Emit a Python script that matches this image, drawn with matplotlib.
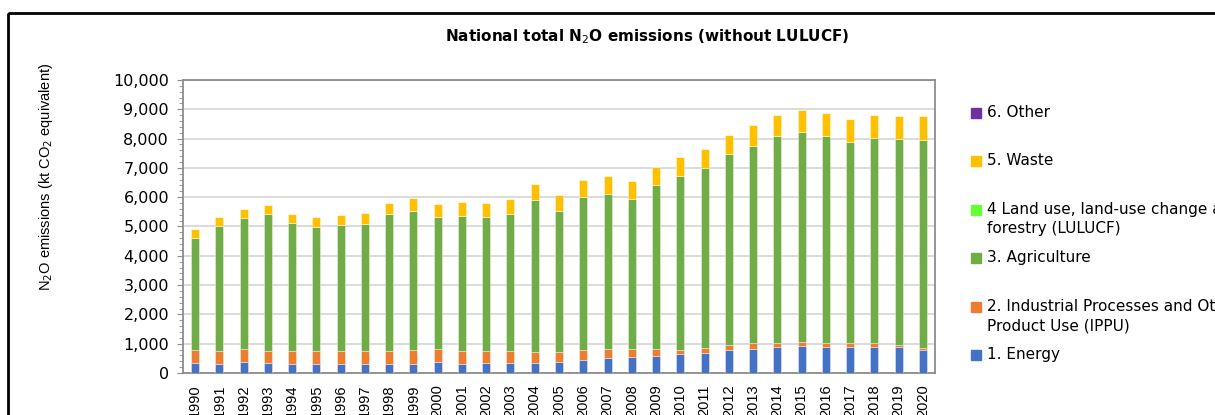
import numpy as np
import matplotlib
matplotlib.use("Agg")
import matplotlib.pyplot as plt
from matplotlib.patches import Rectangle
from matplotlib.ticker import MultipleLocator, FuncFormatter

# Data (kt CO2 eq)
years = list(range(1990, 2021))
energy = [340, 307, 362, 340, 307, 295, 295, 295, 295, 307, 362, 307, 330, 340, 350, 375,
          442, 497, 533, 567, 647, 692, 783, 830, 873, 920, 897, 873, 873, 885, 772]
ippu = [430, 443, 443, 420, 443, 442, 442, 455, 465, 463, 468, 453, 430, 410, 375, 350,
        341, 308, 297, 263, 136, 170, 182, 192, 137, 137, 125, 137, 160, 57, 68]
agriculture = [3850, 4260, 4480, 4650, 4375, 4243, 4298, 4330, 4650, 4775, 4485, 4590, 4555,
               4660, 5175, 4810, 5227, 5320, 5125, 5600, 5952, 6148, 6500, 6738, 7090, 7183,
               7078, 6885, 6987, 7048, 7125]
lulucf = [0] * len(years)
waste = [300, 320, 315, 330, 315, 350, 365, 385, 405, 430, 455, 480, 500, 520, 555, 555,
         580, 590, 600, 605, 630, 650, 670, 705, 705, 725, 775, 775, 785, 793, 818]
other = [0] * len(years)

series_names = ["1. Energy", "2. Industrial Processes and Other\nProduct Use (IPPU)",
                "3. Agriculture", "4 Land use, land-use change and\nforestry (LULUCF)",
                "5. Waste", "6. Other"]
series_vals = [energy, ippu, agriculture, lulucf, waste, other]
colors = ["#4472C4", "#ED7D31", "#70AD47", "#66FF33", "#FFC000", "#7030A0"]

W, H = 1215, 415
narrow = "Liberation Sans"


def px(x, y):
    # pixel position (from top-left) to figure fraction
    return x / W, 1 - y / H


fig = plt.figure(figsize=(W / 100, H / 100), dpi=100)
ax = fig.add_axes([183 / W, 1 - 373 / H, 752 / W, 293 / H])

# outer chart border (chart is cropped on the right and bottom)
fig.patches.append(Rectangle(px(7.5, 13), 2, -2, transform=fig.transFigure,
                             fill=False, edgecolor="black", lw=2))

x = np.arange(len(years))
bottom = np.zeros(len(years))
for vals, col in zip(series_vals, colors):
    vals = np.array(vals, dtype=float)
    ax.bar(x, vals, width=0.33, bottom=bottom, color=col,
           edgecolor=(1, 1, 1, 0.45), linewidth=0.6, zorder=3)
    bottom += vals

ax.set_xlim(-0.5, len(years) - 0.5)
ax.set_ylim(0, 10000)
ax.yaxis.set_major_locator(MultipleLocator(1000))
ax.yaxis.set_minor_locator(MultipleLocator(200))
ax.yaxis.set_major_formatter(FuncFormatter(lambda v, p: "{:,.0f}".format(v)))
ax.grid(axis="y", color="#d9d9d9", lw=1.3, zorder=0)
for s in ax.spines.values():
    s.set_color("#8c8c8c")
    s.set_linewidth(1.3)
ax.tick_params(axis="y", which="major", length=4, color="#8c8c8c", labelsize=11.5, pad=6)
ax.tick_params(axis="y", which="minor", length=3, color="#8c8c8c")
ax.set_xticks(x)
ax.set_xticklabels([str(y) for y in years], rotation=90, fontsize=10.5, family=narrow)
ax.tick_params(axis="x", length=0, pad=8)

fig.text(*px(647, 37), "National total N$_2$O emissions (without LULUCF)",
         ha="center", va="center", fontsize=11, fontweight="bold")
fig.text(*px(46, 177), "N$_2$O emissions (kt CO$_2$ equivalent)", rotation=90,
         ha="center", va="center", fontsize=10.5, family=narrow)

# legend drawn like the Excel one, top entry first
legend_y = [113, 161, 210, 258, 307, 355]
for i, (name, col) in enumerate(reversed(list(zip(series_names, colors)))):
    yy = legend_y[i]
    fig.patches.append(Rectangle(px(971, yy + 5), 10 / W, 10 / H,
                                 transform=fig.transFigure, color=col))
    fig.text(*px(987, yy - 8), name, ha="left", va="top", fontsize=11,
             linespacing=1.35)

fig.savefig("out.png", dpi=100)
